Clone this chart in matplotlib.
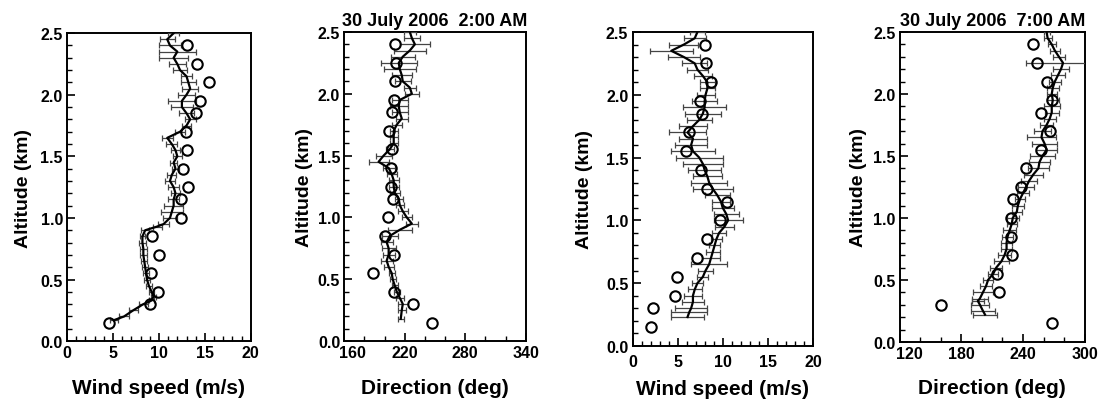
import matplotlib
matplotlib.use("Agg")
import matplotlib.pyplot as plt
from matplotlib.ticker import MultipleLocator, FixedLocator
from matplotlib.transforms import ScaledTranslation

plt.rcParams['font.family'] = ['Liberation Sans', 'DejaVu Sans']

# ---- 2:00 AM profile: wind speed ----
h1 = [0.17, 0.20, 0.25, 0.30, 0.33, 0.36, 0.40, 0.45, 0.50, 0.55, 0.60, 0.65, 0.70, 0.75, 0.80, 0.85, 0.90,
      0.93, 0.95, 1.00, 1.05, 1.10, 1.15, 1.20, 1.25, 1.30, 1.35, 1.40, 1.45, 1.50, 1.55, 1.60, 1.65, 1.70,
      1.75, 1.80, 1.85, 1.90, 1.95, 2.00, 2.05, 2.10, 2.15, 2.20, 2.25, 2.30, 2.35, 2.40, 2.45, 2.50]
spd1 = [5.1, 6.2, 7.2, 8.3, 9.2, 9.4, 9.2, 8.9, 8.7, 8.6, 8.5, 8.4, 8.3, 8.3, 8.2, 8.2, 8.5,
        9.8, 10.5, 11.2, 11.4, 11.6, 11.6, 11.8, 11.6, 11.2, 11.4, 11.8, 11.6, 12.0, 11.8, 11.4, 10.9, 12.3,
        13.0, 13.4, 13.0, 12.5, 12.5, 13.0, 13.4, 13.2, 13.0, 12.3, 12.0, 11.6, 12.0, 11.2, 10.9, 11.6]
spd1_err = [0.4, 0.5, 0.5, 0.5, 0.3, 0.3, 0.3, 0.3, 0.3, 0.3, 0.3, 0.3, 0.4, 0.4, 0.4, 0.3, 0.4,
            0.5, 0.6, 0.8, 1.2, 1.0, 0.6, 0.5, 0.6, 0.5, 0.5, 0.4, 0.4, 0.5, 0.5, 0.6, 0.6, 0.5,
            0.5, 0.6, 0.8, 1.2, 1.5, 0.9, 0.9, 0.8, 0.6, 0.8, 0.9, 1.6, 2.0, 1.2, 0.8, 0.6]

# ---- 2:00 AM profile: direction ----
h2 = [0.18, 0.25, 0.30, 0.35, 0.40, 0.45, 0.50, 0.55, 0.60, 0.65, 0.70, 0.75, 0.80, 0.85, 0.90, 0.95,
      1.00, 1.05, 1.10, 1.15, 1.20, 1.25, 1.30, 1.35, 1.40, 1.45, 1.50, 1.55, 1.60, 1.65, 1.70, 1.75,
      1.80, 1.85, 1.90, 1.95, 2.00, 2.05, 2.10, 2.15, 2.20, 2.25, 2.30, 2.35, 2.40, 2.45, 2.50]
dir2 = [216, 217, 218, 215, 212, 210, 208, 207, 204, 202, 204, 204, 202, 205, 215, 227,
        222, 218, 215, 214, 210, 209, 209, 207, 204, 194, 199, 205, 209, 209, 209, 212,
        217, 215, 214, 215, 227, 225, 218, 217, 215, 214, 218, 225, 230, 227, 225]
dir2_err = [3, 4, 5, 4, 3, 3, 3, 3, 5, 6, 6, 7, 6, 8, 12, 6,
            5, 5, 4, 4, 5, 5, 5, 5, 6, 10, 8, 4, 4, 4, 4, 5,
            6, 8, 9, 8, 7, 6, 8, 10, 16, 18, 12, 16, 15, 8, 6]

# ---- 7:00 AM profile: wind speed ----
h3 = [0.23, 0.27, 0.30, 0.35, 0.40, 0.45, 0.50, 0.55, 0.60, 0.65, 0.70, 0.75, 0.80, 0.85, 0.90, 0.95,
      1.00, 1.05, 1.10, 1.15, 1.20, 1.25, 1.30, 1.35, 1.40, 1.45, 1.50, 1.55, 1.60, 1.65, 1.70, 1.75,
      1.80, 1.85, 1.90, 1.95, 2.00, 2.05, 2.10, 2.15, 2.20, 2.25, 2.30, 2.35, 2.40, 2.45, 2.50]
spd3 = [6.1, 6.3, 6.5, 6.7, 6.7, 6.9, 7.2, 7.8, 8.1, 8.5, 8.7, 8.9, 9.1, 9.3, 9.6, 10.2,
        10.6, 10.4, 10.0, 9.8, 9.4, 8.9, 8.5, 8.3, 8.0, 7.8, 7.4, 6.7, 6.5, 6.7, 6.1, 6.7,
        7.4, 7.8, 8.0, 8.0, 8.1, 8.3, 8.3, 7.8, 7.2, 6.9, 5.7, 4.3, 5.7, 6.9, 7.2]
spd3_err = [1.8, 2.0, 1.8, 1.2, 1.0, 0.8, 0.6, 0.6, 0.8, 2.0, 1.0, 0.8, 0.6, 0.6, 0.8, 1.0,
            1.6, 1.4, 1.2, 1.0, 1.4, 2.2, 2.0, 1.6, 1.8, 2.2, 2.6, 2.4, 1.8, 1.6, 2.0, 1.6,
            1.4, 2.0, 2.4, 1.4, 1.0, 0.8, 0.8, 1.0, 1.2, 1.4, 1.8, 2.4, 1.6, 1.2, 0.8]

# ---- 7:00 AM profile: direction ----
h4 = [0.22, 0.25, 0.30, 0.33, 0.35, 0.40, 0.45, 0.50, 0.55, 0.60, 0.65, 0.70, 0.75, 0.80, 0.85, 0.90,
      0.95, 1.00, 1.05, 1.10, 1.15, 1.20, 1.25, 1.30, 1.35, 1.40, 1.45, 1.50, 1.55, 1.60, 1.65, 1.70,
      1.75, 1.80, 1.85, 1.90, 1.95, 2.00, 2.05, 2.10, 2.15, 2.20, 2.25, 2.30, 2.35, 2.40, 2.45, 2.50]
dir4 = [203, 201, 198, 196, 198, 201, 204, 206, 211, 214, 219, 222, 224, 224, 225, 227,
        229, 230, 234, 235, 237, 240, 243, 246, 250, 255, 256, 259, 263, 261, 258, 259,
        263, 266, 268, 268, 269, 268, 269, 271, 274, 277, 279, 275, 271, 268, 264, 263]
dir4_err = [12, 12, 9, 6, 8, 10, 6, 5, 5, 6, 7, 6, 5, 5, 5, 6,
            5, 6, 5, 6, 5, 6, 8, 8, 9, 10, 10, 12, 10, 12, 14, 8,
            6, 6, 7, 8, 6, 5, 6, 6, 7, 8, 36, 6, 5, 4, 4, 3]

# ---- balloon / sonde points (open circles) ----
hc = [0.15, 0.30, 0.40, 0.55, 0.70, 0.85, 1.00, 1.15, 1.25, 1.40, 1.55, 1.70, 1.85, 1.95, 2.10, 2.25, 2.40]
spd1_c = [4.6, 9.0, 9.9, 9.1, 10.0, 9.2, 12.4, 12.4, 13.2, 12.6, 13.1, 12.9, 14.0, 14.5, 15.4, 14.1, 13.0]
dir2_c = [247, 228, 209, 188, 209, 200, 203, 208, 206, 206, 207, 204, 207, 209, 210, 211, 210]
spd3_c = [2.1, 2.3, 4.7, 4.9, 7.1, 8.3, 9.7, 10.5, 8.3, 7.6, 5.9, 6.3, 7.7, 7.5, 8.7, 8.2, 8.0]
dir4_c = [268, 160, 217, 215, 229, 228, 228, 230, 238, 243, 258, 266, 258, 268, 263, 254, 250]

speed_ticks = [0, 5, 10, 15, 20]
dir2_ticks = [160, 220, 280, 340]
dir4_ticks = [120, 180, 240, 300]

fig = plt.figure(figsize=(11, 4.02), dpi=100)

panels = [
    # rect, x, err, circles, heights, xlim, major ticks, minor step, xlabel, title,
    # xlabelpad, tickpad, ylabelpad, shift of first x label
    ([0.061, 0.149, 0.167, 0.766], spd1, spd1_err, spd1_c, h1, (0, 20), speed_ticks, 1,
     'Wind speed (m/s)', None, 12.5, 3, 6, 0),
    ([0.313, 0.149, 0.165, 0.769], dir2, dir2_err, dir2_c, h2, (160, 340), dir2_ticks, 20,
     'Direction (deg)', '30 July 2006  2:00 AM', 12.5, 3, 3, 8),
    ([0.575, 0.137, 0.164, 0.781], spd3, spd3_err, spd3_c, h3, (0, 20), speed_ticks, 1,
     'Wind speed (m/s)', None, 7, 6, 9.5, 0),
    ([0.818, 0.147, 0.168, 0.771], dir4, dir4_err, dir4_c, h4, (120, 300), dir4_ticks, 20,
     'Direction (deg)', '30 July 2006  7:00 AM', 12.5, 3, 4.5, 10),
]

for rect, xv, xe, xc, hv, xlim, majors, minor, xlabel, title, pad, tpad, ypad, shift in panels:
    ax = fig.add_axes(rect)
    ax.errorbar(xv, hv, xerr=xe, color='black', lw=1.6, ecolor='#444444', elinewidth=0.9,
                capsize=2, capthick=0.9, zorder=3)
    ax.plot(xc, hc, 'o', mfc='none', mec='black', ms=7.5, mew=1.5, zorder=4)
    ax.set_xlim(*xlim)
    ax.set_ylim(0, 2.5)
    ax.xaxis.set_major_locator(FixedLocator(majors))
    ax.xaxis.set_minor_locator(MultipleLocator(minor))
    ax.yaxis.set_major_locator(MultipleLocator(0.5))
    ax.yaxis.set_minor_locator(MultipleLocator(0.1))
    ax.yaxis.set_major_formatter(plt.FormatStrFormatter('%.1f'))
    ax.tick_params(which='both', direction='in', top=False, right=False)
    ax.tick_params(which='major', length=6, width=1.2, labelsize=11.5)
    ax.tick_params(axis='x', which='major', pad=tpad)
    ax.tick_params(axis='y', which='major', pad=3)
    ax.tick_params(which='minor', length=3.5, width=1.0)
    for lab in ax.get_xticklabels() + ax.get_yticklabels():
        lab.set_fontweight('bold')
    if shift:
        first = ax.get_xticklabels()[0]
        first.set_transform(first.get_transform() + ScaledTranslation(shift / 100, 0, fig.dpi_scale_trans))
    for sp in ax.spines.values():
        sp.set_linewidth(1.4)
    ax.set_xlabel(xlabel, fontsize=15, fontweight='bold', labelpad=pad)
    ax.set_ylabel('Altitude (km)', fontsize=14, fontweight='bold', labelpad=ypad)
    if title:
        ax.set_title(title, fontsize=13, fontweight='bold', pad=5)

fig.savefig('out.png', dpi=100)
